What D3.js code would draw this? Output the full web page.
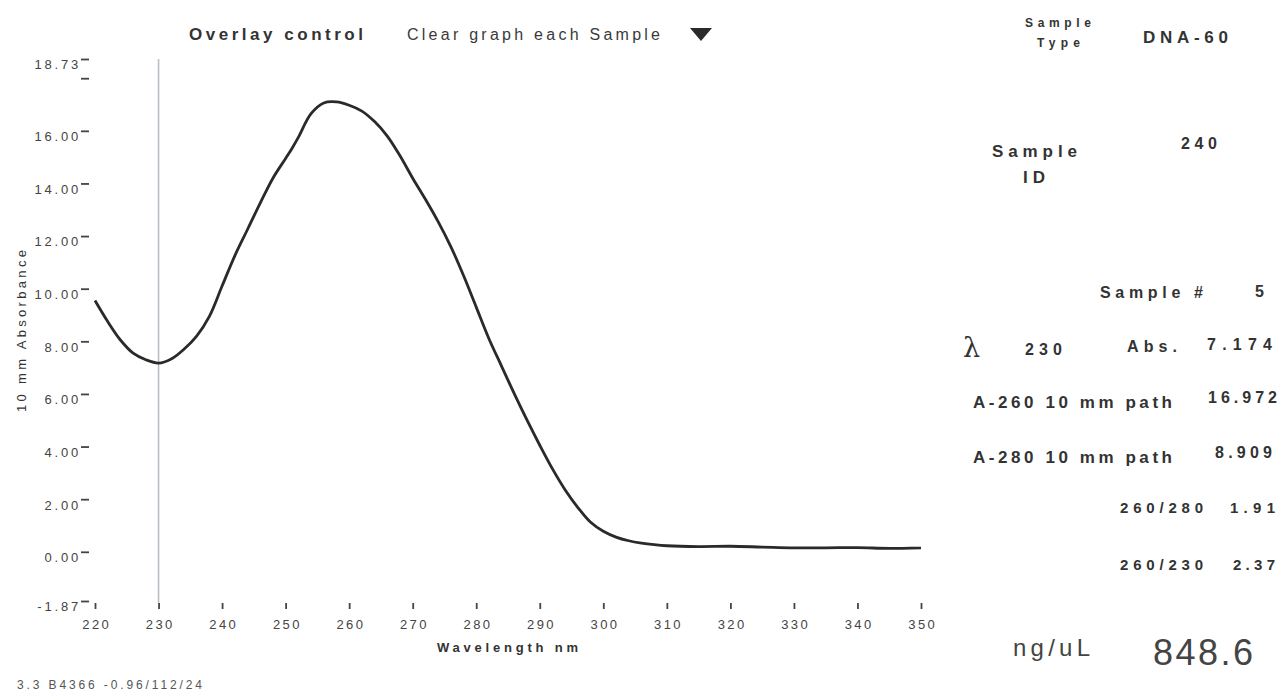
<!DOCTYPE html>
<html>
<head>
<meta charset="utf-8">
<script src="https://cdn.jsdelivr.net/npm/d3@7"></script>
<style>
  html, body { margin: 0; padding: 0; background: #ffffff; }
  svg { display: block; font-family: "Liberation Sans", Arial, sans-serif; }
</style>
</head>
<body>
<div id="chart"></div>
<script>
// spectrum (nm, 10 mm absorbance)
const wavelength = [220, 222, 224, 226, 228, 230, 232, 234, 236, 238, 240, 242, 244, 246, 248, 250, 251, 252, 254, 256, 258, 260,
  262, 264, 266, 268, 270, 272, 274, 276, 278, 280, 282, 284, 286, 288, 290, 292, 294, 296, 298, 300, 302, 304, 306, 308, 310,
  315, 320, 325, 330, 335, 340, 345, 350];
const absorbance = [9.55, 8.75, 8.05, 7.55, 7.3, 7.174, 7.33, 7.7, 8.2, 8.95, 10.1, 11.25, 12.25, 13.25, 14.2, 14.95, 15.33, 15.75, 16.65, 17.06, 17.1, 16.972,
  16.75, 16.35, 15.8, 15.05, 14.2, 13.4, 12.55, 11.6, 10.5, 9.3, 8.1, 7.05, 6.0, 5.0, 4.05, 3.15, 2.35, 1.68, 1.12, 0.78, 0.56,
  0.42, 0.33, 0.27, 0.23, 0.2, 0.21, 0.18, 0.15, 0.15, 0.16, 0.13, 0.15];

const yTicks = [-1.87, 0, 2, 4, 6, 8, 10, 12, 14, 16, 18, 18.73];
const yTickLabels = ["-1.87", "0.00", "2.00", "4.00", "6.00", "8.00", "10.00", "12.00", "14.00", "16.00", "", "18.73"];
const xTicks = [220, 230, 240, 250, 260, 270, 280, 290, 300, 310, 320, 330, 340, 350];
const cursorWavelength = 230;

// readout panel on the right
const sampleType = "DNA-60";
const sampleId = "240";
const sampleNumber = "5";
const abs230 = "7.174";
const a260 = "16.972";
const a280 = "8.909";
const ratio260280 = "1.91";
const ratio260230 = "2.37";
const concentration = "848.6";

const width = 1282;
const height = 691;
const ink = "#333";

const svg = d3.select("#chart")
  .append("svg")
  .attr("width", width)
  .attr("height", height);

svg.append("rect")
  .attr("width", width)
  .attr("height", height)
  .attr("fill", "#fff");

// Scales
const x = d3.scaleLinear()
  .domain([220, 350])
  .range([95, 921]);

const y = d3.scaleLinear()
  .domain([-1.87, 18.73])
  .range([601, 59]);

// small helper for the stretched, wide-spaced text of the instrument printout
function label(px, py, str, size, weight, len, color) {
  const t = svg.append("text")
    .attr("x", px)
    .attr("y", py)
    .style("font-size", size + "px")
    .style("font-weight", weight)
    .attr("fill", color || ink)
    .text(str);
  if (len) t.attr("textLength", len).attr("lengthAdjust", "spacing");
  return t;
}

// Cursor line at 230 nm
svg.append("line")
  .attr("x1", x(cursorWavelength))
  .attr("x2", x(cursorWavelength))
  .attr("y1", y(18.73))
  .attr("y2", y(-1.87) + 2)
  .attr("stroke", "#b9bdc7")
  .attr("stroke-width", 1.6);

// Y axis (ticks sit to the right of the labels, labels hang below)
const yAxis = svg.append("g")
  .attr("transform", "translate(89,0)")
  .call(d3.axisLeft(y)
    .tickValues(yTicks)
    .tickSize(8)
    .tickPadding(3)
    .tickFormat((d, i) => yTickLabels[i]));
yAxis.select(".domain").remove();
yAxis.selectAll(".tick line").attr("stroke", "#444").attr("stroke-width", 1.8);
yAxis.selectAll(".tick text")
  .attr("dy", "0.76em")
  .attr("dx", 3)
  .attr("fill", "#444")
  .style("font-size", "13px")
  .style("letter-spacing", "2.8px")
  .style("font-family", "'Liberation Sans', Arial, sans-serif");

// X axis
const xAxis = svg.append("g")
  .attr("transform", "translate(0,603)")
  .call(d3.axisBottom(x)
    .tickValues(xTicks)
    .tickSize(6)
    .tickPadding(11)
    .tickFormat(d3.format("d")));
xAxis.select(".domain").remove();
xAxis.selectAll(".tick line").attr("stroke", "#444").attr("stroke-width", 1.8);
xAxis.selectAll(".tick text")
  .attr("dx", 1.2)
  .attr("fill", "#444")
  .style("font-size", "13px")
  .style("letter-spacing", "2.4px")
  .style("font-family", "'Liberation Sans', Arial, sans-serif");

// Spectrum
const line = d3.line()
  .x((d, i) => x(wavelength[i]))
  .y(d => y(d))
  .curve(d3.curveCatmullRom.alpha(0.5));

svg.append("path")
  .datum(absorbance)
  .attr("d", line)
  .attr("fill", "none")
  .attr("stroke", "#2a2a2a")
  .attr("stroke-width", 2.8)
  .attr("stroke-linejoin", "round");

// Axis titles
label(437, 652, "Wavelength nm", 13, "bold", 141);

svg.append("text")
  .attr("transform", "translate(26,412) rotate(-90)")
  .attr("textLength", 162)
  .attr("lengthAdjust", "spacing")
  .style("font-size", "13px")
  .attr("fill", ink)
  .text("10 mm Absorbance");

// Header controls
label(189, 40, "Overlay control", 17, "bold", 174);
label(407, 40, "Clear graph each Sample", 16, "normal", 253, "#3a3a3a");
svg.append("path")
  .attr("d", "M690,28 L712,28 L701,41 Z")
  .attr("fill", "#2a2a2a");

// Footer
label(17, 689, "3.3 B4366 -0.96/112/24", 12, "normal", 185, "#555");

// Readout panel
label(1025, 27, "Sample", 12, "bold", 66);
label(1037, 47, "Type", 12, "bold", 43);
label(1143, 43, sampleType, 17, "bold", 85);

label(992, 157, "Sample", 17, "bold", 85);
label(1023, 183, "ID", 17, "bold", 22);
label(1181, 149, sampleId, 16, "bold", 36);

label(1100, 298, "Sample #", 16, "bold", 103);
label(1255, 297, sampleNumber, 16, "bold");

svg.append("text")
  .attr("x", 963)
  .attr("y", 357)
  .style("font-family", "'DejaVu Serif', 'Liberation Serif', serif")
  .style("font-size", "27px")
  .attr("fill", ink)
  .text("λ");
label(1025, 355, String(cursorWavelength), 16, "bold", 37);
label(1127, 352, "Abs.", 16, "bold", 50);
label(1207, 350, abs230, 16, "bold", 65);

label(973, 408, "A-260 10 mm path", 17, "bold", 199);
label(1208, 403, a260, 16, "bold", 69);
label(973, 463, "A-280 10 mm path", 17, "bold", 199);
label(1215, 458, a280, 16, "bold", 57);

label(1120, 513, "260/280", 15, "bold", 83);
label(1230, 513, ratio260280, 15, "bold", 45);
label(1120, 570, "260/230", 15, "bold", 83);
label(1233, 570, ratio260230, 15, "bold", 42);

label(1013, 656, "ng/uL", 24, "normal", 77, "#444");
label(1153, 665, concentration, 36, "normal", 100, "#444");
</script>
</body>
</html>
